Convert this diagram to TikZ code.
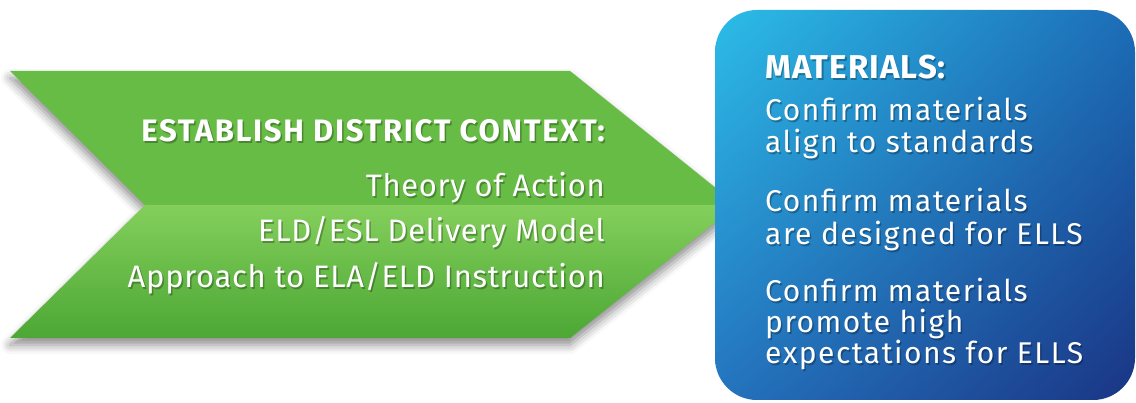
\documentclass[tikz,border=0pt]{standalone}
\usepackage{fontspec}
\setmainfont{Fira Sans}
\usetikzlibrary{shadows.blur,shadings}
\definecolor{gtop}{HTML}{67BC45}
\definecolor{gmidl}{HTML}{84CF5C}
\definecolor{gbot}{HTML}{4CA734}
\definecolor{bul}{HTML}{2CBDE8}
\definecolor{bur}{HTML}{1C6DB7}
\definecolor{bll}{HTML}{2473BE}
\definecolor{blr}{HTML}{1A3584}
\tikzset{
  gtxt/.style={text=white, inner sep=0pt, font=\fontsize{31}{31}\selectfont\addfontfeatures{LetterSpace=2.2}, anchor=base east},
  gtxtb/.style={gtxt, font=\fontsize{31}{31}\selectfont\bfseries\addfontfeatures{LetterSpace=5.5}},
  btxt/.style={text=white, inner sep=0pt, font=\fontsize{30}{30}\selectfont\addfontfeatures{LetterSpace=5}, anchor=base west},
  btxtb/.style={btxt, font=\fontsize{33}{33}\selectfont\bfseries\addfontfeatures{LetterSpace=3}},
  shd/.style={text=black, text opacity=0.28},
}
\newcommand{\gline}[4]{%
  \node[#1, shd] at (#2+1.5,#3+1.5) {#4};
  \node[#1] (n#2x#3) at (#2,#3) {#4};}
\begin{document}
\begin{tikzpicture}[x=1pt,y=-1pt]
\useasboundingbox (0,0) rectangle (1136,403);
% chevron shadow
\fill[black, opacity=0.0, blur shadow={shadow xshift=0pt, shadow yshift=-7pt, shadow blur radius=9pt, shadow opacity=45}]
  (10,71) -- (570,71) -- (737,205) -- (570,338) -- (10,338) -- (145,205) -- cycle;
% top half
\fill[gtop] (10,71) -- (570,71) -- (737,205) -- (145,205) -- cycle;
% bottom half
\shade[top color=gmidl, bottom color=gbot] (145,205) -- (737,205) -- (570,338) -- (10,338) -- cycle;
% blue box
\node[draw=none, fill=black, opacity=0, blur shadow={shadow xshift=5pt, shadow yshift=-4pt, shadow blur radius=8pt, shadow opacity=45}, rounded corners=42pt, minimum width=420pt, minimum height=390pt, inner sep=0pt] (boxsh) at (925,205) {};
\shade[rounded corners=42pt, upper left=bul, upper right=bur, lower left=bll, lower right=blr] (715,10) rectangle (1135,400);
% green text
\gline{gtxtb}{605}{142}{ESTABLISH DISTRICT CONTEXT:}
\gline{gtxt}{605}{197}{Theory of Action}
\gline{gtxt}{605}{242}{ELD/ESL Delivery Model}
\gline{gtxt}{605}{288}{Approach to ELA/ELD Instruction}
% blue text
\gline{btxtb}{765}{79}{MATERIALS:}
\gline{btxt}{765}{121}{Confirm materials}
\gline{btxt}{765}{153}{align to standards}
\gline{btxt}{765}{212}{Confirm materials}
\gline{btxt}{765}{245}{are designed for ELLS}
\gline{btxt}{765}{302}{Confirm materials}
\gline{btxt}{765}{333}{promote high}
\gline{btxt}{765}{364}{expectations for ELLS}
\end{tikzpicture}
\end{document}
